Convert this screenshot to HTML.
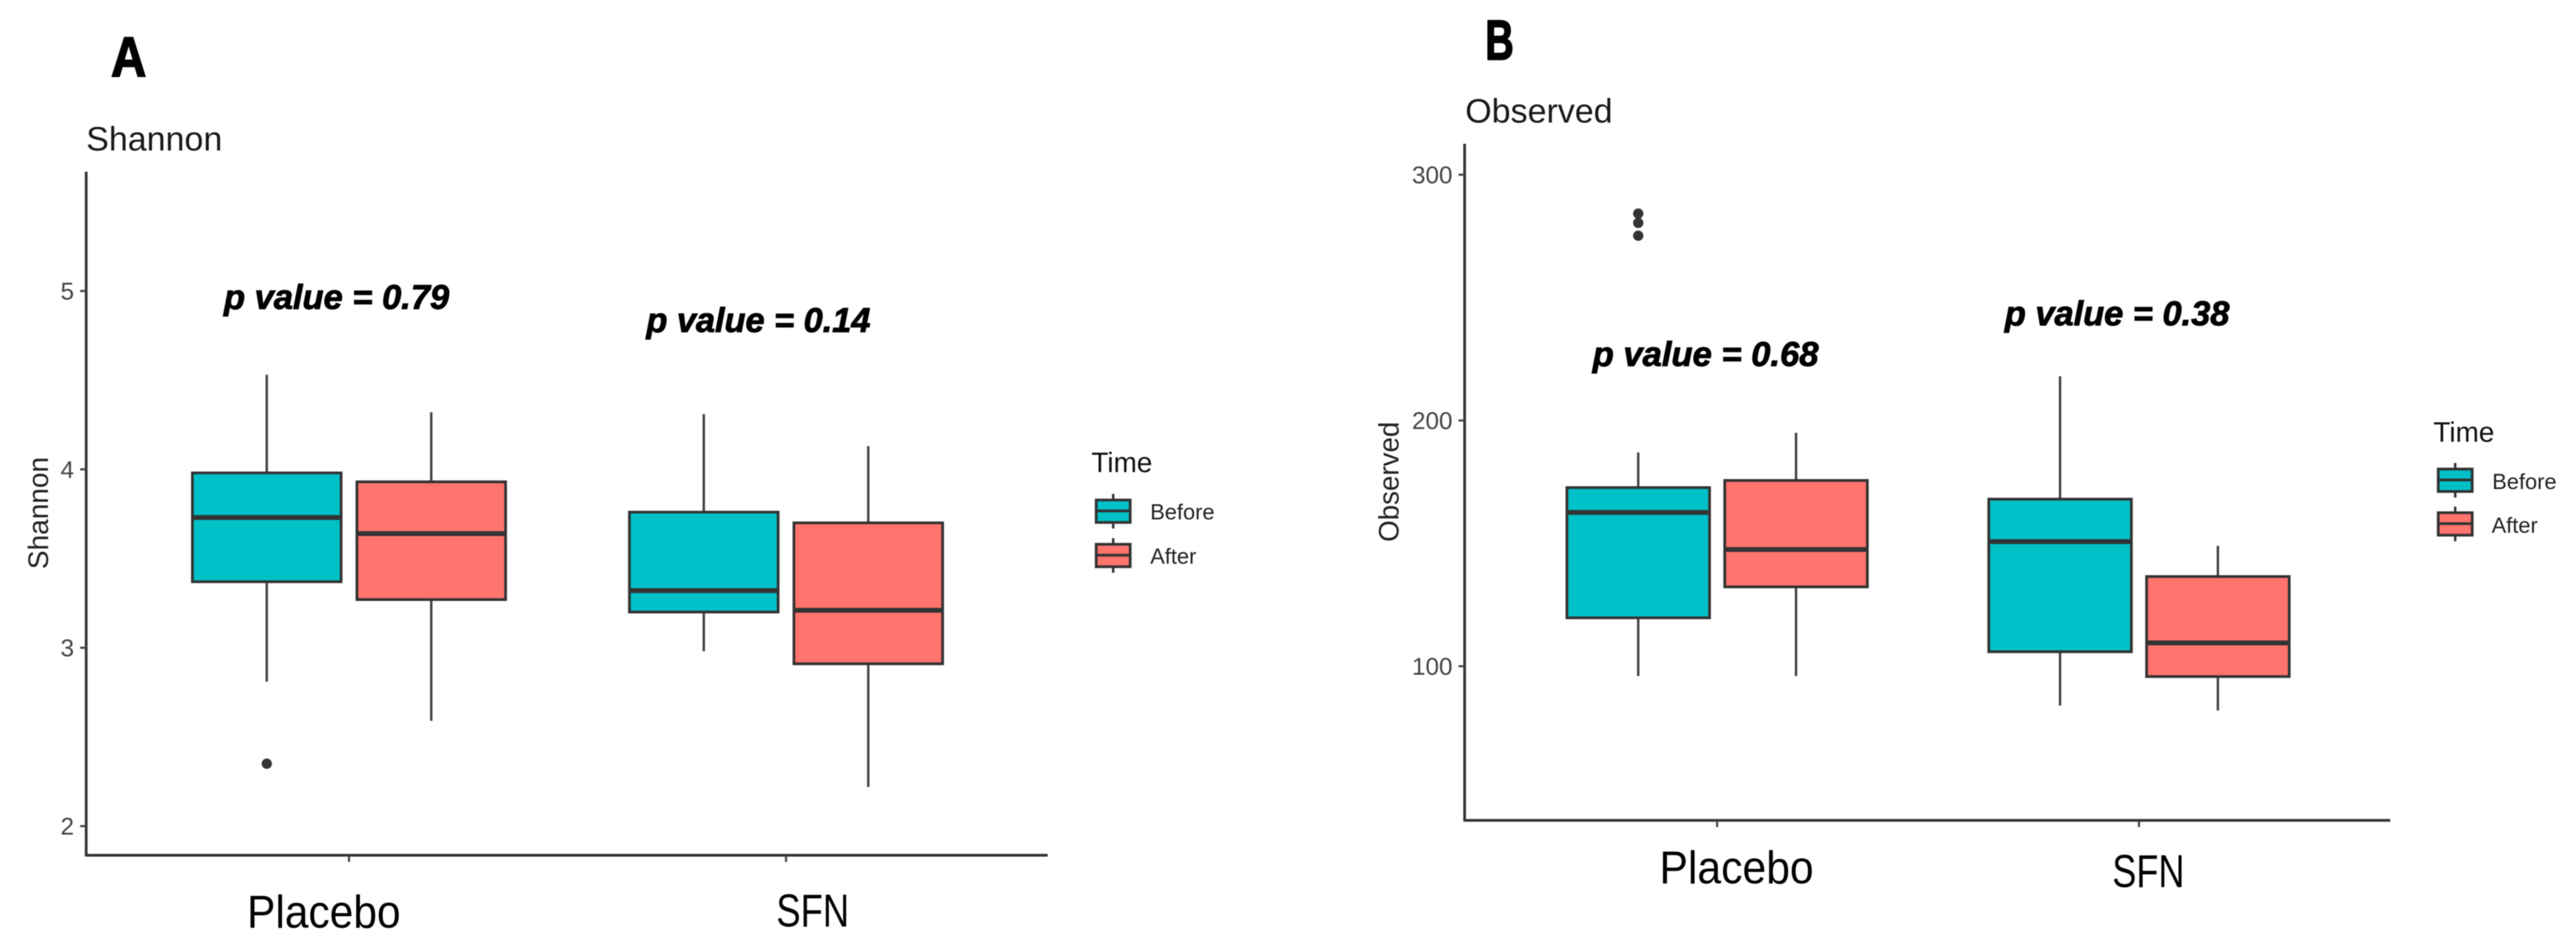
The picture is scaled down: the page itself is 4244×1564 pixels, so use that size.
<!DOCTYPE html>
<html lang="en">
<head>
<meta charset="utf-8">
<title>Alpha diversity box plots</title>
<style>
html,body{margin:0;padding:0;background:#fff;width:4244px;height:1564px;overflow:hidden}
svg{display:block;filter:blur(0.7px)}
text{font-family:"Liberation Sans",sans-serif}
.pv{font-weight:bold;font-style:italic;font-size:57px;fill:#000;stroke:#000;stroke-width:1.4px}
.cat{font-size:76px;fill:#000}
.ttl{font-size:56px;fill:#1a1a1a}
.yl{font-size:46px;fill:#222}
.panel{font-weight:bold;font-size:93px;fill:#000;stroke:#000;stroke-width:2.5px}
.lt{font-size:46px;fill:#111}
.ll{font-size:36px;fill:#222}
</style>
</head>
<body>
<svg id="fig" xmlns="http://www.w3.org/2000/svg" width="4244" height="1564" viewBox="0 0 4244 1564">
<rect width="4244" height="1564" fill="#fff"/>
<text class="panel" x="183" y="126" textLength="58" lengthAdjust="spacingAndGlyphs">A</text>
<text class="ttl" x="142" y="248">Shannon</text>
<text class="yl" transform="translate(79,938) rotate(-90)" textLength="185" lengthAdjust="spacingAndGlyphs">Shannon</text>
<text class="pv" x="369" y="509" textLength="371" lengthAdjust="spacingAndGlyphs">p value = 0.79</text>
<text class="pv" x="1065" y="547" textLength="369" lengthAdjust="spacingAndGlyphs">p value = 0.14</text>
<text class="cat" x="407" y="1529" textLength="253" lengthAdjust="spacingAndGlyphs">Placebo</text>
<text class="cat" x="1279" y="1527" textLength="120" lengthAdjust="spacingAndGlyphs">SFN</text>
<text class="lt" x="1798" y="778">Time</text>
<text class="ll" x="1895" y="856">Before</text>
<text class="ll" x="1895" y="929">After</text>

<text class="panel" x="2447" y="98" textLength="47" lengthAdjust="spacingAndGlyphs">B</text>
<text class="ttl" x="2414" y="202">Observed</text>
<text class="yl" transform="translate(2304,893) rotate(-90)" textLength="198" lengthAdjust="spacingAndGlyphs">Observed</text>
<text class="pv" x="2624" y="603" textLength="372" lengthAdjust="spacingAndGlyphs">p value = 0.68</text>
<text class="pv" x="3303" y="536" textLength="370" lengthAdjust="spacingAndGlyphs">p value = 0.38</text>
<text class="cat" x="2734" y="1456" textLength="254" lengthAdjust="spacingAndGlyphs">Placebo</text>
<text class="cat" x="3480" y="1462" textLength="119" lengthAdjust="spacingAndGlyphs">SFN</text>
<text class="lt" x="4009" y="728">Time</text>
<text class="ll" x="4106" y="806">Before</text>
<text class="ll" x="4105" y="878">After</text>
</svg>
<script>
// Box order for every series array: Placebo-Before, Placebo-After, SFN-Before, SFN-After
const categories = ['Placebo', 'SFN'];
const groups = ['Before', 'After'];

const shannonTicks = [2, 3, 4, 5];
const shannonWhiskerHigh = [4.53, 4.32, 4.31, 4.13];
const shannonQ3 = [3.98, 3.93, 3.76, 3.70];
const shannonMedian = [3.73, 3.64, 3.32, 3.21];
const shannonQ1 = [3.37, 3.27, 3.20, 2.91];
const shannonWhiskerLow = [2.81, 2.59, 2.98, 2.22];
const shannonOutlierBox = [0];
const shannonOutlierValue = [2.35];

const observedTicks = [100, 200, 300];
const observedWhiskerHigh = [187, 195, 218, 149];
const observedQ3 = [172.7, 175.6, 168, 136.5];
const observedMedian = [162.6, 147.5, 150.7, 109.5];
const observedQ1 = [119.7, 132.3, 105.9, 95.8];
const observedWhiskerLow = [96, 96, 84, 82];
const observedOutlierBox = [0, 0, 0];
const observedOutlierValue = [284.2, 280.4, 275.2];

const svg = document.getElementById('fig');
const NS = 'http://www.w3.org/2000/svg';
const INK = '#333333';
const fills = ['#00C1C7', '#FF746D'];

function make(tag, props) {
  const el = document.createElementNS(NS, tag);
  for (const k in props) el.setAttribute(k, props[k]);
  svg.appendChild(el);
  return el;
}

function drawBox(prefix, i, xCenter, width, y, s) {
  const group = i % 2;
  const top = make('line', {x1: xCenter, x2: xCenter, y1: y(s.high[i]), y2: y(s.q3[i]), stroke: '#444', 'stroke-width': 4});
  
  
  const low = make('line', {x1: xCenter, x2: xCenter, y1: y(s.q1[i]), y2: y(s.low[i]), stroke: '#444', 'stroke-width': 4});
  
  
  const box = make('rect', {x: xCenter - width / 2, width: width, y: y(s.q3[i]), height: y(s.q1[i]) - y(s.q3[i]), fill: fills[group], stroke: INK, 'stroke-width': 4.5});
  
  
  const med = make('line', {x1: xCenter - width / 2, x2: xCenter + width / 2, y1: y(s.med[i]), y2: y(s.med[i]), stroke: INK, 'stroke-width': 8});
  
  
}

function drawPanel(p, s) {
  const y = v => p.y0 - (v - p.v0) * p.perUnit;
  const xCat = c => p.cat0 + c * p.catStep;
  const xBox = i => xCat(Math.floor(i / 2)) + (i % 2 === 0 ? -p.dodge : p.dodge);

  const yAxis = make('line', {x1: p.left, x2: p.left, y1: p.top, y2: p.bottom + 2, stroke: INK, 'stroke-width': 4.5});
  
  
  const xAxis = make('line', {x1: p.left, x2: p.right, y1: p.bottom, y2: p.bottom, stroke: INK, 'stroke-width': 4.5});
  
  

  s.ticks.forEach(t => {
    const tick = make('line', {x1: p.left - 10, x2: p.left, y1: y(t), y2: y(t), stroke: '#444', 'stroke-width': 3.5});
    
    
    const lab = make('text', {x: p.left - 20, y: y(t) + 14, 'text-anchor': 'end', 'font-size': 40, fill: '#444'});
    lab.textContent = String(t);
    
    
  });

  categories.forEach((c, ci) => {
    const tick = make('line', {x1: xCat(ci) - p.tickShift, x2: xCat(ci) - p.tickShift, y1: p.bottom, y2: p.bottom + 11, stroke: '#444', 'stroke-width': 3.5});
    
    
  });

  s.q1.forEach((_, i) => {
    const prefix = p.id + '-' + categories[Math.floor(i / 2)].toLowerCase() + '-' + groups[i % 2].toLowerCase();
    drawBox(prefix, i, xBox(i), p.boxWidth, y, s);
  });

  s.outBox.forEach((b, k) => {
    const dot = make('circle', {cx: xBox(b), cy: y(s.outVal[k]), r: 8.5, fill: INK});
    
    
  });

  groups.forEach((g, gi) => {
    const cy = p.keyY[gi];
    const w = make('line', {x1: p.keyX, x2: p.keyX, y1: cy - 28, y2: cy + 29, stroke: INK, 'stroke-width': 4});
    
    
    const k = make('rect', {x: p.keyX - 28, width: 56, y: cy - 18, height: 37, fill: fills[gi], stroke: INK, 'stroke-width': 4.5});
    
    
    const m = make('line', {x1: p.keyX - 28, x2: p.keyX + 28, y1: cy, y2: cy, stroke: INK, 'stroke-width': 4.5});
    
    
  });
}

drawPanel(
  {id: 'shannon', left: 142, right: 1726, top: 283, bottom: 1409.5, y0: 1361.5, v0: 2, perUnit: 294,
   cat0: 575, catStep: 720, dodge: 135.5, boxWidth: 245, tickShift: 0, keyX: 1834, keyY: [842, 915]},
  {ticks: shannonTicks, high: shannonWhiskerHigh, q3: shannonQ3, med: shannonMedian, q1: shannonQ1,
   low: shannonWhiskerLow, outBox: shannonOutlierBox, outVal: shannonOutlierValue}
);
drawPanel(
  {id: 'observed', left: 2413, right: 3938, top: 237, bottom: 1352, y0: 1098, v0: 100, perUnit: 4.05,
   cat0: 2829, catStep: 695, dodge: 130, boxWidth: 235, tickShift: 0, keyX: 4045, keyY: [791, 863]},
  {ticks: observedTicks, high: observedWhiskerHigh, q3: observedQ3, med: observedMedian, q1: observedQ1,
   low: observedWhiskerLow, outBox: observedOutlierBox, outVal: observedOutlierValue}
);
</script>
</body>
</html>
